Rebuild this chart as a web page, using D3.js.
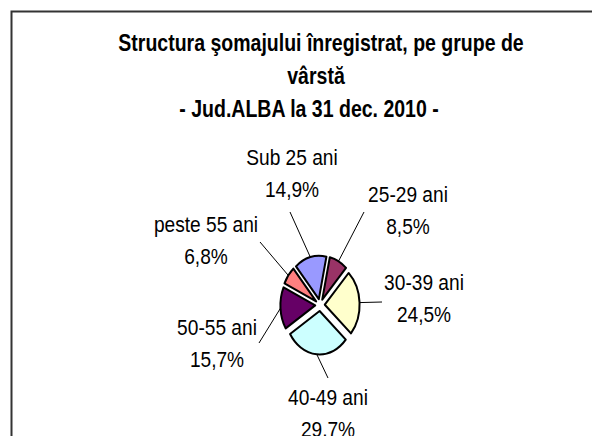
<!DOCTYPE html>
<html>
<head>
<meta charset="utf-8">
<script src="https://cdn.jsdelivr.net/npm/d3@7"></script>
<style>
  html, body { margin: 0; padding: 0; background: #fff; }
  svg { display: block; }
</style>
</head>
<body>
<script>
// ---- data ----
const categories = ["Sub 25 ani", "25-29 ani", "30-39 ani", "40-49 ani", "50-55 ani", "peste 55 ani"];
const values = [14.9, 8.5, 24.5, 29.7, 15.7, 6.8];
const colors = ["#9999FF", "#993366", "#FFFFCC", "#CCFFFF", "#660066", "#FF8080"];
const titleLines = ["Structura şomajului înregistrat, pe grupe de", "vârstă", "- Jud.ALBA la 31 dec. 2010 -"];

// ---- layout ----
const W = 592, H = 436;
const cx = 320, cy = 305;
const radius = 43.5, explode = 6, squeezeX = 0.8;
const startAngle = -41 * Math.PI / 180;
const labelPos = [
  {x: 292, y: 165, lx: 290, ly: 212},
  {x: 408, y: 202, lx: 364, ly: 212},
  {x: 424, y: 290, lx: 382, ly: 302},
  {x: 328, y: 405, lx: 328, ly: 378},
  {x: 217, y: 335, lx: 259, ly: 343},
  {x: 206, y: 232, lx: 260, ly: 242}
];
const titleX = [321, 316, 309], titleY = [51, 84, 117];
const lineGap = 31.5;

const svg = d3.select("body").append("svg").attr("width", W).attr("height", H);
svg.append("rect").attr("width", W).attr("height", H).attr("fill", "#fff");
svg.append("rect").attr("x", 11.5).attr("y", 11.5).attr("width", W + 20).attr("height", H + 20)
  .attr("fill", "none").attr("stroke", "#333").attr("stroke-width", 2);

function narrowText(x, y, str, size, sx, bold) {
  svg.append("g").attr("transform", `translate(${x},${y}) scale(${sx},1)`)
    .append("text").attr("text-anchor", "middle")
    .attr("font-family", "Liberation Sans, Arial, sans-serif")
    .attr("font-weight", bold ? "bold" : "normal")
    .attr("font-size", size).attr("fill", "#000")
    .text(str);
}

// title
titleLines.forEach((t, i) => narrowText(titleX[i], titleY[i], t, 23.8, 0.82, true));

// pie
const pie = d3.pie().sort(null).value(d => d).startAngle(startAngle).endAngle(startAngle + 2 * Math.PI);
const arcs = pie(values);
const arc = d3.arc().innerRadius(0).outerRadius(radius);
const pg = svg.append("g").attr("transform", `translate(${cx},${cy}) scale(${squeezeX},1)`);
pg.selectAll("path").data(arcs).join("path")
  .attr("d", arc)
  .attr("transform", d => {
    const m = (d.startAngle + d.endAngle) / 2;
    return `translate(${explode * Math.sin(m)},${-explode * Math.cos(m)})`;
  })
  .attr("fill", (d, i) => colors[i])
  .attr("stroke", "#000").attr("stroke-width", 2)
  .attr("vector-effect", "non-scaling-stroke")
  .attr("stroke-linejoin", "round");

// leader lines and labels
const fmt = v => d3.format(".1f")(v).replace(".", ",") + "%";
arcs.forEach((d, i) => {
  const m = (d.startAngle + d.endAngle) / 2;
  const R = radius + explode;
  const sx = cx + squeezeX * R * Math.sin(m);
  const sy = cy - R * Math.cos(m);
  svg.append("line").attr("x1", sx).attr("y1", sy)
    .attr("x2", labelPos[i].lx).attr("y2", labelPos[i].ly)
    .attr("stroke", "#000").attr("stroke-width", 1);
  narrowText(labelPos[i].x, labelPos[i].y, categories[i], 22, 0.87, false);
  narrowText(labelPos[i].x, labelPos[i].y + lineGap, fmt(values[i]), 22, 0.87, false);
});
</script>
</body>
</html>
